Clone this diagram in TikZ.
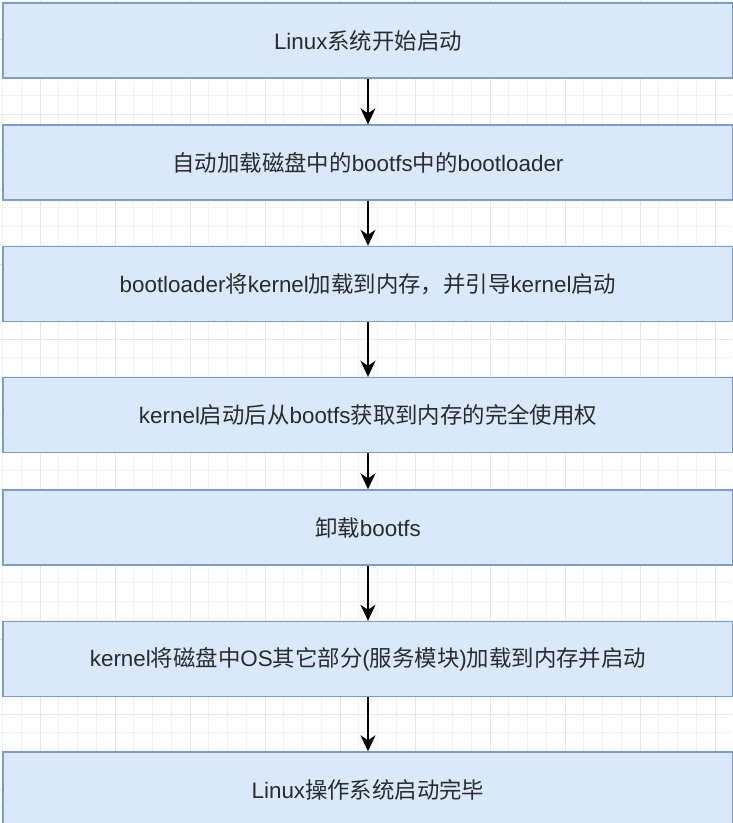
\documentclass[tikz,border=0pt]{standalone}
\usepackage{fontspec}
\setmainfont{Noto Sans CJK SC}
\newfontfamily\eng{Liberation Sans}
\usetikzlibrary{arrows.meta}
\definecolor{boxfill}{HTML}{DAE8FC}
\definecolor{boxline}{HTML}{7E9CC8}
\definecolor{gridminor}{HTML}{F2F2F2}
\definecolor{gridmajor}{HTML}{E6E6E6}
\definecolor{txtcol}{HTML}{2B2B2B}
\begin{document}
\begin{tikzpicture}[x=1pt, y=1pt,
	stepbox/.style={draw=boxline, fill=boxfill, line width=1.4pt, minimum width=730pt, minimum height=75pt, inner sep=0pt, text=txtcol, font=\fontsize{22.4}{26}\selectfont},
	flow/.style={line width=1.5pt, -{Stealth[length=16pt, width=15pt, inset=5pt]}}]
		\useasboundingbox (0, 0) rectangle (732, 823);
		\fill[white] (0, 0) rectangle (732, 823); % page
		\foreach \i in {0,...,39} \draw[gridminor, line width=0.6pt] (2.5+\i*18.75, 0) -- (2.5+\i*18.75, 823);
		\foreach \j in {0,...,43} \draw[gridminor, line width=0.6pt] (0, 821.5-\j*18.75) -- (732, 821.5-\j*18.75);
		\foreach \i in {2,6,...,38} \draw[gridmajor, line width=0.6pt] (2.5+\i*18.75, 0) -- (2.5+\i*18.75, 823);
		\foreach \j in {2,6,...,42} \draw[gridmajor, line width=0.6pt] (0, 821.5-\j*18.75) -- (732, 821.5-\j*18.75);
		\node[stepbox] (start) at (368, 782.5) {{\eng Linux}系统开始启动}; % Begin
		\node[stepbox] (loadbl) at (368, 660.5) {自动加载磁盘中的{\eng bootfs}中的{\eng bootloader}};
		\node[stepbox] (loadkern) at (368, 539) {{\eng bootloader}将{\eng kernel}加载到内存，并引导{\eng kernel}启动};
		\node[stepbox] (takemem) at (368, 408) {{\eng kernel}启动后从{\eng bootfs}获取到内存的完全使用权};
		\node[stepbox] (unmount) at (368, 295.5) {卸载{\eng bootfs}};
		\node[stepbox] (loados) at (368, 164) {{\eng kernel}将磁盘中{\eng OS}其它部分{\eng (}服务模块{\eng )}加载到内存并启动};
		\node[stepbox] (done) at (368, 33.5) {{\eng Linux}操作系统启动完毕}; % End
		\draw[flow] (start) -- (loadbl);
		\draw[flow] (loadbl) -- (loadkern);
		\draw[flow] (loadkern) -- (takemem);
		\draw[flow] (takemem) -- (unmount);
		\draw[flow] (unmount) -- (loados);
		\draw[flow] (loados) -- (done);
	\end{tikzpicture}
\end{document}
